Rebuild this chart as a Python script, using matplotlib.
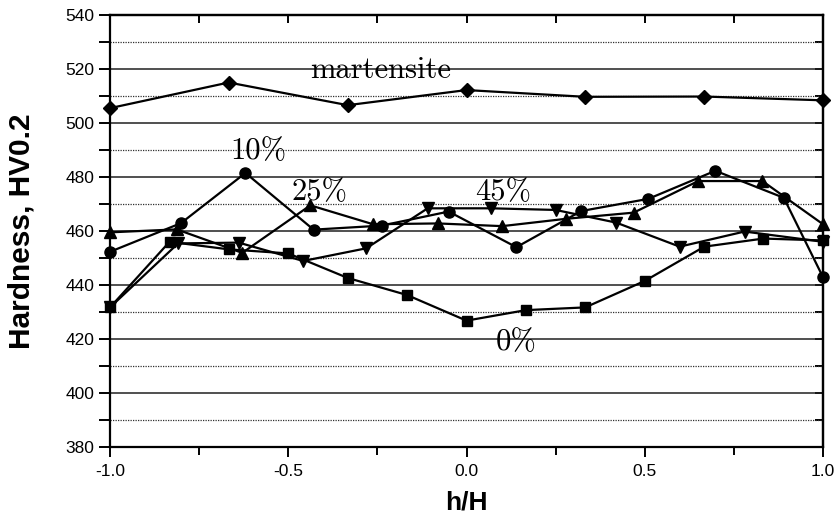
import matplotlib
matplotlib.use('Agg')
import matplotlib.pyplot as plt
from matplotlib.ticker import MultipleLocator, FormatStrFormatter

# ---- data ----
mart_x = [-1.0, -0.667, -0.333, 0.0, 0.333, 0.667, 1.0]
mart_y = [505.5, 515.0, 506.6, 512.2, 509.7, 509.8, 508.4]

p0_x = [-1.0, -0.833, -0.667, -0.5, -0.333, -0.167, 0.0, 0.167, 0.333, 0.5, 0.667, 0.833, 1.0]
p0_y = [431.7, 456.0, 453.2, 451.7, 442.6, 436.3, 426.8, 430.7, 431.7, 441.5, 454.2, 457.2, 456.5]

p10_x = [-1.0, -0.801, -0.620, -0.429, -0.238, -0.050, 0.140, 0.322, 0.510, 0.698, 0.890, 1.0]
p10_y = [452.3, 462.9, 481.5, 460.5, 462.0, 467.2, 454.0, 467.4, 471.9, 482.3, 472.3, 442.9]

p25_x = [-1.0, -0.813, -0.629, -0.438, -0.262, -0.080, 0.100, 0.278, 0.469, 0.650, 0.830, 1.0]
p25_y = [459.5, 460.6, 451.9, 469.5, 462.5, 462.8, 461.8, 464.5, 466.8, 478.5, 478.5, 462.5]

p45_x = [-1.0, -0.809, -0.639, -0.458, -0.281, -0.109, 0.070, 0.250, 0.420, 0.598, 0.780, 1.0]
p45_y = [431.7, 455.4, 455.7, 448.9, 453.6, 468.4, 468.4, 467.8, 463.1, 454.2, 459.8, 456.0]

labels = ["martensite", "10%", "25%", "45%", "0%"]
label_pos = [(-0.4376, 516.7), (-0.662, 486.7), (-0.492, 471.5), (0.025, 471.5), (0.081, 415.9)]

fig = plt.figure(figsize=(8.38, 5.24), dpi=100)
ax = fig.add_axes([110/838, 1-447/524, 713/838, 432/524])

ax.set_xlim(-1.0, 1.0)
ax.set_ylim(380, 540)

# grid
ax.set_axisbelow(True)
ax.yaxis.set_major_locator(MultipleLocator(20))
ax.yaxis.set_minor_locator(MultipleLocator(10))
ax.xaxis.set_major_locator(MultipleLocator(0.5))
ax.xaxis.set_minor_locator(MultipleLocator(0.25))
ax.xaxis.set_major_formatter(FormatStrFormatter('%.1f'))
ax.yaxis.grid(True, which='major', color='#202020', lw=1.1, ls='-')
ax.yaxis.grid(True, which='minor', color='#303030', lw=0.9, ls=(0, (1, 1)))

lw = 1.6
ax.plot(mart_x, mart_y, color='black', lw=lw, marker='D', ms=7, zorder=3, clip_on=False)
ax.plot(p0_x, p0_y, color='black', lw=lw, marker='s', ms=7, zorder=3, clip_on=False)
ax.plot(p10_x, p10_y, color='black', lw=lw, marker='o', ms=8, zorder=3, clip_on=False)
ax.plot(p25_x, p25_y, color='black', lw=lw, marker='^', ms=8, zorder=3, clip_on=False)
ax.plot(p45_x, p45_y, color='black', lw=lw, marker='v', ms=8, zorder=3, clip_on=False)

for t, (x, y) in zip(labels, label_pos):
    ax.text(x, y, t, family='cmr10', fontsize=22, ha='left', va='baseline', zorder=4)

for s in ax.spines.values():
    s.set_linewidth(1.6)
    s.set_color('black')

ax.tick_params(axis='both', which='both', direction='out', width=1.4,
               labelsize=12.5, top=False, right=False)
ax.tick_params(axis='y', which='major', length=8, pad=3)
ax.tick_params(axis='y', which='minor', length=8)
ax.tick_params(axis='x', which='major', length=7, pad=5)
ax.tick_params(axis='x', which='minor', length=6)
for lab in ax.get_xticklabels() + ax.get_yticklabels():
    lab.set_family('Liberation Sans')

# inward ticks on top and right
sx = ax.secondary_xaxis('top')
sx.xaxis.set_major_locator(MultipleLocator(0.5))
sx.xaxis.set_minor_locator(MultipleLocator(0.25))
sx.tick_params(which='both', direction='in', length=6, width=1.4, labeltop=False)
sx.spines['top'].set_linewidth(1.6)
sy = ax.secondary_yaxis('right')
sy.yaxis.set_major_locator(MultipleLocator(20))
sy.yaxis.set_minor_locator(MultipleLocator(10))
sy.tick_params(which='both', direction='in', length=6, width=1.4, labelright=False)
sy.spines['right'].set_linewidth(1.6)

ax.set_xlabel('h/H', family='Liberation Sans', fontweight='bold', fontsize=19)
ax.set_ylabel('Hardness, HV0.2', family='Liberation Sans', fontweight='bold', fontsize=21.5)
ax.xaxis.set_label_coords(0.5, -0.10)
ax.yaxis.set_label_coords(-0.104, 0.5)

fig.savefig('out.png', dpi=100)
